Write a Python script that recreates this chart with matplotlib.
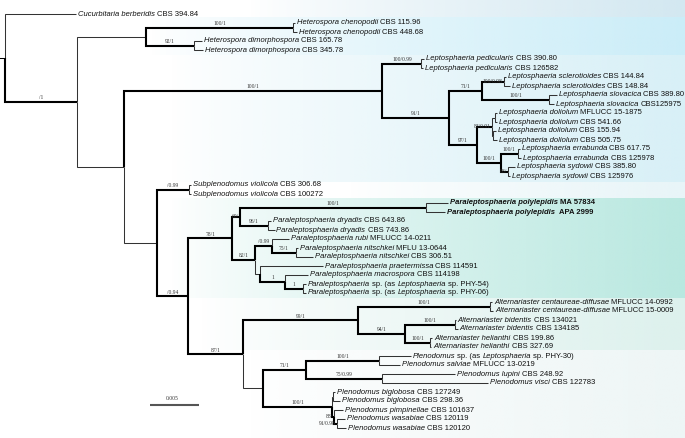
import matplotlib
matplotlib.use('Agg')
import matplotlib.pyplot as plt
import numpy as np
from matplotlib.colors import to_rgb

plt.rcParams['font.family'] = ['Liberation Sans', 'DejaVu Sans']

# 系统发育树 (Newick)：分支长度 = 替换/位点，内部节点标签 = ML bootstrap / PP
# 叶节点名是 TIP_LABELS 的下标
TREE = (
    "(0:0.0072,"
    "(((1:0.0002,2:0.0004)100/1:0.0150,(3:0.0008,4:0.0009)92/1:0.0049):0.0071,"      # Heterospora
    "(((5:0.0003,6:0.0002)100/0.99:0.0040,"                                            # Leptosphaeria
    "(((7:0.0002,8:0.0006)100/0.98:0.0022,(9:0.0008,10:0.0005)100/1:0.0068)71/1:0.0034,"
    "(((11:0.0002,12:0.0002):0.0003,(13:0.0003,14:0.0004):0.0001)83/0.91:0.0015,"
    "((15:0.0002,16:0.0004)100/1:0.0017,(17:0.0007,18:0.0002)88/:0.0007)100/1:0.0024)97/1:0.0029"
    ")91/1:0.0068)100/1:0.0264,"
    "((19:0.0002,20:0.0002)/0.99:0.0033,"                                              # Subplenodomus
    "((((21:0.0022,22:0.0019)100/1:0.0190,(23:0.0003,24:0.0007)96/1:0.0028)60/:0.0008,"  # Paraleptosphaeria
    "((25:0.0018,(26:0.0002,27:0.0017)75/1:0.0025)/0.99:0.0017,"
    "(28:0.0064,(29:0.0023,(30:0.0003,31:0.0003)1:0.0018)1:0.0026):0.0005)82/1:0.0023)78/1:0.0045,"
    "(((32:0.0002,33:0.0003)100/1:0.0135,"                                             # Alternariaster
    "((34:0.0001,35:0.0003)100/1:0.0051,(36:0.0002,37:0.0001)100/1:0.0026)94/1:0.0048)99/1:0.0117,"
    "(((38:0.0032,39:0.0021)100/1:0.0075,(40:0.0074,41:0.0108)75/0.99:0.0078)71/1:0.0044,"  # Plenodomus
    "((42:0.0002,43:0.0007):0.0001,(44:0.0009,(45:0.0008,46:0.0009)91/0.98:0.0003)88/:0.0002)100/1:0.0071"
    "):0.0020)87/1:0.0056)/0.94:0.0032):0.0034):0.0048)/1:0.0073);"
)

# *...* = 斜体
TIP_LABELS = [
    "*Cucurbitaria berberidis* CBS 394.84",
    "*Heterospora chenopodii* CBS 115.96",
    "*Heterospora chenopodii* CBS 448.68",
    "*Heterospora dimorphospora* CBS 165.78",
    "*Heterospora dimorphospora* CBS 345.78",
    "*Leptosphaeria pedicularis* CBS 390.80",
    "*Leptosphaeria pedicularis* CBS 126582",
    "*Leptosphaeria sclerotioides* CBS 144.84",
    "*Leptosphaeria sclerotioides* CBS 148.84",
    "*Leptosphaeria slovacica* CBS 389.80",
    "*Leptosphaeria slovacica* CBS125975",
    "*Leptosphaeria doliolum* MFLUCC 15-1875",
    "*Leptosphaeria doliolum* CBS 541.66",
    "*Leptosphaeria doliolum* CBS 155.94",
    "*Leptosphaeria doliolum* CBS 505.75",
    "*Leptosphaeria errabunda* CBS 617.75",
    "*Leptosphaeria errabunda* CBS 125978",
    "*Leptosphaeria sydowii* CBS 385.80",
    "*Leptosphaeria sydowii* CBS 125976",
    "*Subplenodomus violicola* CBS 306.68",
    "*Subplenodomus violicola* CBS 100272",
    "*Paraleptosphaeria polylepidis* MA 57834",
    "*Paraleptosphaeria polylepidis*  APA 2999",
    "*Paraleptosphaeria dryadis* CBS 643.86",
    "*Paraleptosphaeria dryadis* CBS 743.86",
    "*Paraleptosphaeria rubi* MFLUCC 14-0211",
    "*Paraleptosphaeria nitschkei* MFLU 13-0644",
    "*Paraleptosphaeria nitschkei* CBS 306.51",
    "*Paraleptosphaeria praetermissa* CBS 114591",
    "*Paraleptosphaeria macrospora* CBS 114198",
    "*Paraleptosphaeria* sp. (as *Leptosphaeria* sp. PHY-54)",
    "*Paraleptosphaeria* sp. (as *Leptosphaeria* sp. PHY-06)",
    "*Alternariaster centaureae-diffusae* MFLUCC 14-0992",
    "*Alternariaster centaureae-diffusae* MFLUCC 15-0009",
    "*Alternariaster bidentis* CBS 134021",
    "*Alternariaster bidentis* CBS 134185",
    "*Alternariaster helianthi* CBS 199.86",
    "*Alternariaster helianthi* CBS 327.69",
    "*Plenodomus* sp. (as *Leptosphaeria* sp. PHY-30)",
    "*Plenodomus salviae* MFLUCC 13-0219",
    "*Plenodomus lupini* CBS 248.92",
    "*Plenodomus visci* CBS 122783",
    "*Plenodomus biglobosa* CBS 127249",
    "*Plenodomus biglobosa* CBS 298.36",
    "*Plenodomus pimpinellae* CBS 101637",
    "*Plenodomus wasabiae* CBS 120119",
    "*Plenodomus wasabiae* CBS 120120",
]
BOLD_TIPS = [21, 22]
SCALE_LEN = 0.005

# 背景色带 (顶/底像素, 颜色, 渐变起点像素)
BANDS = [
    (0, 17, '#d3e8f1', 250),
    (17, 55, '#cbedf8', 150),
    (55, 182, '#d8f0f7', 170),
    (182, 198, '#e8f5f8', 350),
    (198, 298, '#b9e8e0', 170),
    (298, 350, '#ddf1ed', 200),
    (350, 438, '#eef6f6', 250),
]

W, H = 685, 438
PX_PER_UNIT = 9800.0   # 0.005 = 49 px
X0, Y0, DY = 5, 14, 9.0


def px2x(px):
    return (px - X0) / PX_PER_UNIT


def px2y(py):
    return (py - Y0) / DY


def parse(s):
    pos = 0

    def node():
        nonlocal pos
        n = {'children': [], 'label': '', 'bl': 0.0}
        if s[pos] == '(':
            pos += 1
            n['children'].append(node())
            while s[pos] == ',':
                pos += 1
                n['children'].append(node())
            pos += 1
        start = pos
        while s[pos] not in ':,);':
            pos += 1
        n['label'] = s[start:pos]
        if s[pos] == ':':
            pos += 1
            start = pos
            while s[pos] not in ',);':
                pos += 1
            n['bl'] = float(s[start:pos])
        return n

    return node()


def layout(n, x):
    n['x'] = x
    if n['children']:
        for c in n['children']:
            layout(c, x + c['bl'])
        n['y'] = (n['children'][0]['y'] + n['children'][-1]['y']) / 2
    else:
        n['y'] = int(n['label'])


root = parse(TREE)
layout(root, 0.0)

fig = plt.figure(figsize=(W / 100, H / 100), dpi=100)
ax = fig.add_axes([0, 0, 1, 1])
ax.set_xlim(px2x(0), px2x(W))
ax.set_ylim(px2y(H), px2y(0))
ax.axis('off')

# 背景渐变
for top, bot, col, start in BANDS:
    ramp = np.linspace(0, 1, 256) ** 0.8
    img = np.zeros((1, 256, 4))
    img[0, :, :3] = to_rgb(col)
    img[0, :, 3] = ramp
    ax.imshow(img, extent=[px2x(start), px2x(W), px2y(bot), px2y(top)],
              aspect='auto', interpolation='bilinear', zorder=0)

SUP_FS = 4.0
SUP_CHAR = {'/': 0.278, '.': 0.25}


def sup_width_px(t):
    em = SUP_FS * 100 / 72
    return sum(SUP_CHAR.get(ch, 0.5) for ch in t) * em


def draw_label(x, y, text, bold):
    parts = text.split('*')
    prev = None
    gap = 0
    for i, p in enumerate(parts):
        if p.strip() == '':
            gap += len(p)
            continue
        lead = len(p) - len(p.lstrip(' '))
        gap += lead
        kw = dict(fontsize=5.5, color='#111111',
                  fontstyle='italic' if i % 2 == 1 else 'normal',
                  fontweight='bold' if bold else 'normal')
        s = p.strip(' ')
        if prev is None:
            prev = ax.text(x, y, s, va='center', ha='left', **kw)
        else:
            prev = ax.annotate(s, xy=(1, 0), xycoords=prev,
                               xytext=(gap * 0.278 * 5.5, 0), textcoords='offset points',
                               va='bottom', ha='left', **kw)
        gap = len(p) - len(p.rstrip(' '))


def draw(n):
    for c in n['children']:
        thick = bool(c['children']) and c['label'] != ''
        lw, col = (1.5, 'black') if thick else (0.75, '#333333')
        ax.plot([n['x'], n['x'], c['x']], [n['y'], c['y'], c['y']],
                color=col, lw=lw, solid_joinstyle='miter', solid_capstyle='butt', zorder=2)
        if c['children']:
            if c['label']:
                blen = (c['x'] - n['x']) * PX_PER_UNIT
                wpx = sup_width_px(c['label'])
                if blen >= wpx + 2:
                    ax.text((n['x'] + c['x']) / 2, c['y'] - 0.15, c['label'], ha='center',
                            va='bottom', fontsize=SUP_FS, family='Liberation Serif', color='#333333')
                else:
                    ax.text(c['x'] - 1 / PX_PER_UNIT, c['y'], c['label'], ha='right',
                            va='center', fontsize=SUP_FS, family='Liberation Serif', color='#333333')
            draw(c)
        else:
            i = int(c['label'])
            draw_label(c['x'] + 2 / PX_PER_UNIT, c['y'], TIP_LABELS[i], i in BOLD_TIPS)


# 根的短柄
ax.plot([px2x(0), 0], [root['y'], root['y']], color='black', lw=0.75)
draw(root)

# 比例尺
sx = px2x(150)
sy = px2y(405)
ax.plot([sx, sx + SCALE_LEN], [sy, sy], color='#555555', lw=1.5, solid_capstyle='butt')
ax.text(sx + SCALE_LEN / 2 - 2 / PX_PER_UNIT, sy - 0.5, f'{SCALE_LEN:g}', ha='center', va='bottom',
        fontsize=SUP_FS, family='Liberation Serif', color='#333333')

fig.savefig('out.png', dpi=100)
